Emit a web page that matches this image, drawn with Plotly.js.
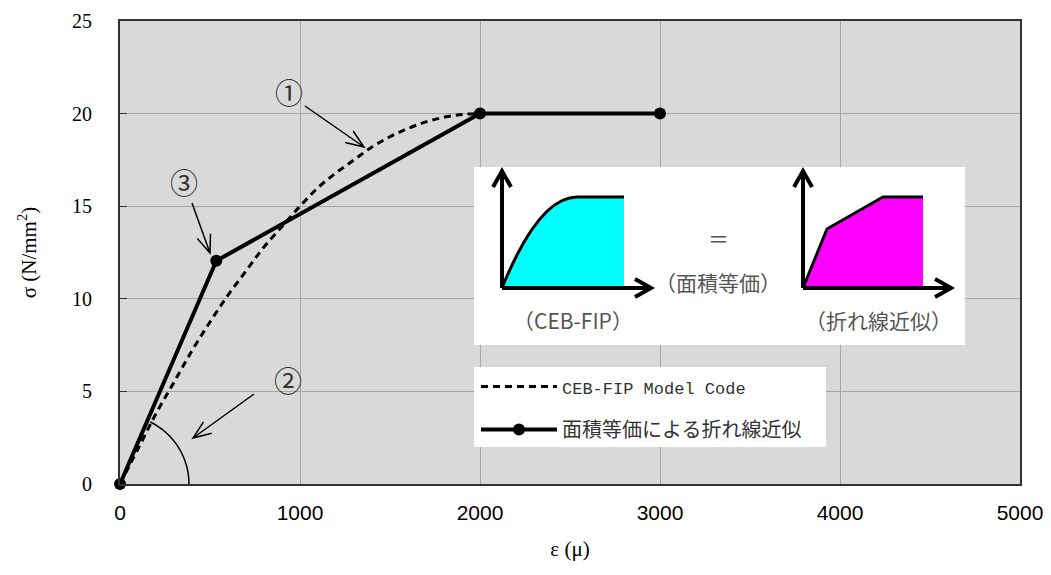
<!DOCTYPE html>
<html>
<head>
<meta charset="utf-8">
<script src="https://cdn.plot.ly/plotly-3.0.1.min.js"></script>
<style>html,body{margin:0;padding:0;background:#fff;}#chart{width:1051px;height:575px;}</style>
</head>
<body>
<div id="chart"></div>
<script>
// ---- data ----
const cebStrain = [0, 100, 200, 300, 400, 500, 600, 700, 800, 900, 1000, 1100, 1200, 1300, 1400, 1500, 1600, 1700, 1800, 1900, 2000];
const cebStress = [0, 1.9, 3.8, 5.5, 7.2, 8.75, 10.2, 11.5, 12.8, 13.9, 15.0, 16.0, 16.8, 17.5, 18.2, 18.75, 19.2, 19.55, 19.8, 19.95, 20.0];
const polyStrain = [0, 535, 2000, 3000];
const polyStress = [0, 12.05, 20, 20];
const seriesNames = ["CEB-FIP Model Code", "面積等価による折れ線近似"];
const xTicks = [0, 1000, 2000, 3000, 4000, 5000];
const yTicks = [0, 5, 10, 15, 20, 25];
const xTitle = "ε (μ)";
const yTitle = "σ (N/mm<sup>2</sup>)";
const markLabels = ["①", "②", "③"];
const insetLabels = ["（CEB-FIP）", "＝", "（面積等価）", "（折れ線近似）"];

// ---- layout geometry ----
const W = 1051, H = 575, ML = 120, MR = 31, MT = 21, MB = 91;
const PW = W - ML - MR, PH = H - MT - MB;
const XR = [0, 5000], YR = [0, 25];
// pixel -> data helpers for decorations (inset drawing, arrows)
const X = px => XR[0] + (px - ML) * (XR[1] - XR[0]) / PW;
const Y = py => YR[0] + (MT + PH - py) * (YR[1] - YR[0]) / PH;

function arrowPath(p0, p1, len, half) {
  const dx = p1[0] - p0[0], dy = p1[1] - p0[1];
  const L = Math.hypot(dx, dy), ux = dx / L, uy = dy / L;
  const a = [p1[0] - len * ux - half * uy, p1[1] - len * uy + half * ux];
  const b = [p1[0] - len * ux + half * uy, p1[1] - len * uy - half * ux];
  return `M${X(p0[0])},${Y(p0[1])} L${X(p1[0])},${Y(p1[1])} M${X(a[0])},${Y(a[1])} L${X(p1[0])},${Y(p1[1])} L${X(b[0])},${Y(b[1])}`;
}
function pathOf(pts, close) {
  return pts.map((p, i) => (i ? 'L' : 'M') + X(p[0]) + ',' + Y(p[1])).join(' ') + (close ? ' Z' : '');
}

const shapes = [];
// white panels (inset picture & legend background)
shapes.push({type: 'rect', xref: 'x', yref: 'y', x0: X(474), x1: X(965), y0: Y(345), y1: Y(167), fillcolor: '#ffffff', line: {width: 0}, layer: 'above'});
shapes.push({type: 'rect', xref: 'x', yref: 'y', x0: X(474), x1: X(826), y0: Y(447), y1: Y(367), fillcolor: '#ffffff', line: {width: 0}, layer: 'above'});
// inset: cyan area (CEB-FIP)
const cyanPath = `M${X(502)},${Y(288)} Q${X(539)},${Y(197)} ${X(577)},${Y(197)} L${X(624)},${Y(197)} L${X(624)},${Y(288)} Z`;
shapes.push({type: 'path', xref: 'x', yref: 'y', path: cyanPath, fillcolor: '#00ffff', line: {width: 0}, layer: 'above'});
shapes.push({type: 'path', xref: 'x', yref: 'y', path: `M${X(502)},${Y(288)} Q${X(539)},${Y(197)} ${X(577)},${Y(197)} L${X(624)},${Y(197)}`, line: {color: '#000', width: 3}, layer: 'above'});
// inset: magenta area (polyline)
const magPts = [[803, 288], [827, 229], [883, 197], [923, 197], [923, 288]];
shapes.push({type: 'path', xref: 'x', yref: 'y', path: pathOf(magPts, true), fillcolor: '#ff00ff', line: {width: 0}, layer: 'above'});
shapes.push({type: 'path', xref: 'x', yref: 'y', path: pathOf(magPts.slice(0, 4), false), line: {color: '#000', width: 3}, layer: 'above'});
// inset axes arrows
[[[502, 288], [502, 171]], [[502, 288], [651, 288]], [[803, 288], [803, 171]], [[803, 288], [951, 288]]].forEach(s => {
  shapes.push({type: 'path', xref: 'x', yref: 'y', path: arrowPath(s[0], s[1], 16, 9), line: {color: '#000', width: 4}, layer: 'above'});
});
// callout arrows
[[[305, 106], [364, 147]], [[192, 203], [210, 253]], [[254, 394], [193, 438]]].forEach(s => {
  shapes.push({type: 'path', xref: 'x', yref: 'y', path: arrowPath(s[0], s[1], 18, 7), line: {color: '#000', width: 1.5}, layer: 'above'});
});
// angle arc at the origin
const arcPts = [];
for (let a = 0; a <= 64; a += 4) {
  const r = 69, t = a * Math.PI / 180;
  arcPts.push([ML + r * Math.cos(t), MT + PH - r * Math.sin(t)]);
}
shapes.push({type: 'path', xref: 'x', yref: 'y', path: pathOf(arcPts, false), line: {color: '#000', width: 1.5}, layer: 'above'});

const annFontCircle = {family: 'Noto Sans CJK JP', size: 28, color: '#333'};
const insetFont = {family: 'Noto Sans CJK JP', size: 21, color: '#555'};
const annotations = [
  {x: X(289), y: Y(92), text: markLabels[0], font: annFontCircle},
  {x: X(288), y: Y(380), text: markLabels[1], font: annFontCircle},
  {x: X(184), y: Y(182), text: markLabels[2], font: annFontCircle},
  {x: X(573), y: Y(320), text: insetLabels[0], font: insetFont},
  {x: X(718), y: Y(238), text: insetLabels[1], font: insetFont},
  {x: X(718), y: Y(282), text: insetLabels[2], font: insetFont},
  {x: X(878), y: Y(320), text: insetLabels[3], font: insetFont}
].map(a => Object.assign({xref: 'x', yref: 'y', showarrow: false, xanchor: 'center', yanchor: 'middle'}, a));

const traces = [
  {x: cebStrain, y: cebStress, name: '<span style="font-family:Liberation Mono;font-size:17px">' + seriesNames[0] + '</span>',
   mode: 'lines', type: 'scatter',
   line: {color: '#000', width: 3, dash: '7px,5px', shape: 'spline'}, legendgroup: 'a', cliponaxis: false},
  {x: polyStrain, y: polyStress, name: seriesNames[1], mode: 'lines+markers', type: 'scatter',
   line: {color: '#000', width: 4}, marker: {color: '#000', size: 12}, legendgroup: 'b', cliponaxis: false}
];

const layout = {
  width: W, height: H,
  margin: {l: ML, r: MR, t: MT, b: MB, pad: 0},
  paper_bgcolor: '#ffffff', plot_bgcolor: '#d9d9d9',
  showlegend: true,
  legend: {x: (476 - ML) / PW, y: (484 - 367) / PH, xanchor: 'left', yanchor: 'top',
           bgcolor: 'rgba(0,0,0,0)', borderwidth: 0, tracegroupgap: 14, traceorder: 'grouped',
           itemwidth: 76,
           font: {family: 'Noto Sans CJK JP', size: 20, color: '#333'}},
  xaxis: {range: XR, tickvals: xTicks, ticktext: xTicks.map(String), showgrid: true, gridcolor: '#a6a6a6', gridwidth: 1,
          zeroline: false, showline: true, mirror: true, linecolor: '#333', linewidth: 2, ticks: '',
          ticklabelstandoff: 9,
          tickfont: {family: 'Liberation Sans Narrow, Liberation Sans, Arial', size: 21, color: '#000'},
          title: {text: xTitle, font: {family: 'Liberation Serif', size: 21, color: '#000'}, standoff: 18}},
  yaxis: {range: YR, tickvals: yTicks, ticktext: yTicks.map(String), showgrid: true, gridcolor: '#a6a6a6', gridwidth: 1,
          zeroline: false, showline: true, mirror: true, linecolor: '#333', linewidth: 2,
          ticks: 'inside', ticklen: 7, tickcolor: '#333', tickwidth: 1, ticklabelstandoff: 22,
          tickfont: {family: 'Liberation Serif', size: 20, color: '#000'},
          title: {text: yTitle, font: {family: 'Liberation Serif', size: 21, color: '#000'}, standoff: 30}},
  shapes: shapes,
  annotations: annotations
};

Plotly.newPlot('chart', traces, layout, {displayModeBar: false, staticPlot: true});
</script>
</body>
</html>
